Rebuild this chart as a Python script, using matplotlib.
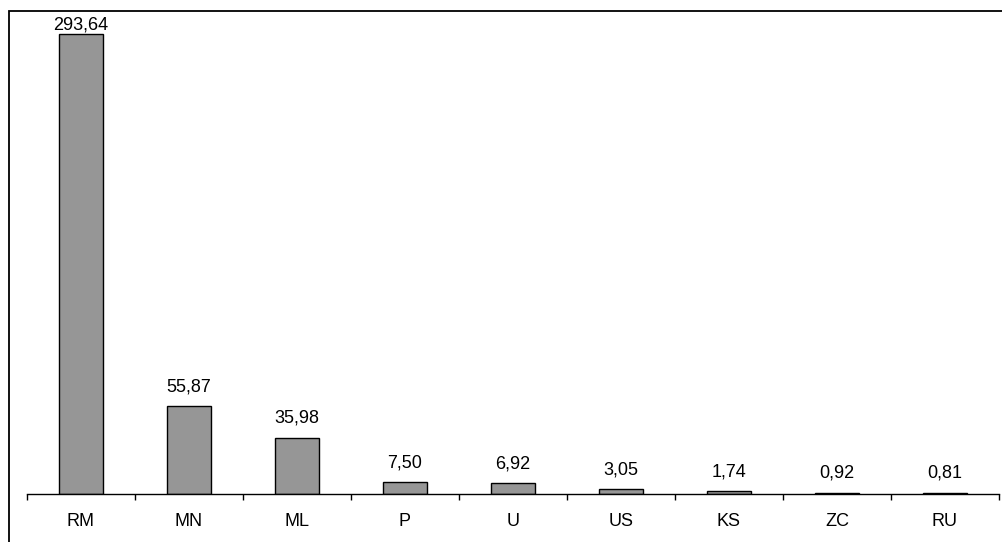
import matplotlib
matplotlib.use('Agg')
import matplotlib.pyplot as plt
from matplotlib.patches import Rectangle

plt.rcParams['font.family'] = ['Liberation Sans', 'DejaVu Sans']

# data
kategorie = ['RM', 'MN', 'ML', 'P', 'U', 'US', 'KS', 'ZC', 'RU']
wartosci = [293.64, 55.87, 35.98, 7.50, 6.92, 3.05, 1.74, 0.92, 0.81]

fig = plt.figure(figsize=(10.03, 5.42), dpi=100)

# outer frame (cut off on the right and bottom)
fig.patches.append(Rectangle((9/1003, -0.1), 1.2, 1.1 - 11/542, transform=fig.transFigure,
                             fill=False, edgecolor='black', linewidth=1.3, clip_on=False))

ax = fig.add_axes([27/1003, 1 - 494/542, (999 - 27)/1003, (494 - 24)/542])
x = list(range(len(kategorie)))
ax.bar(x, wartosci, width=0.4, color='#969696', edgecolor='black', linewidth=1)

for xi, v in zip(x, wartosci):
    off = 0 if v == max(wartosci) else 8
    ax.annotate(('%.2f' % v).replace('.', ','), (xi, v), xytext=(0, off),
                textcoords='offset points', ha='center', va='bottom', fontsize=13)

ax.set_xlim(-0.5, len(kategorie) - 0.5)
ax.set_ylim(0, 300)
for s in ['left', 'right', 'top']:
    ax.spines[s].set_visible(False)
ax.spines['bottom'].set_linewidth(1)
ax.set_yticks([])

ax.set_xticks([i - 0.5 for i in range(len(kategorie) + 1)])
ax.set_xticklabels([])
ax.tick_params(axis='x', which='major', direction='out', length=4.5, width=1)
ax.set_xticks(x, minor=True)
ax.set_xticklabels(kategorie, minor=True, fontsize=13)
ax.tick_params(axis='x', which='minor', length=0, pad=14)

fig.savefig('out.png', dpi=100)
